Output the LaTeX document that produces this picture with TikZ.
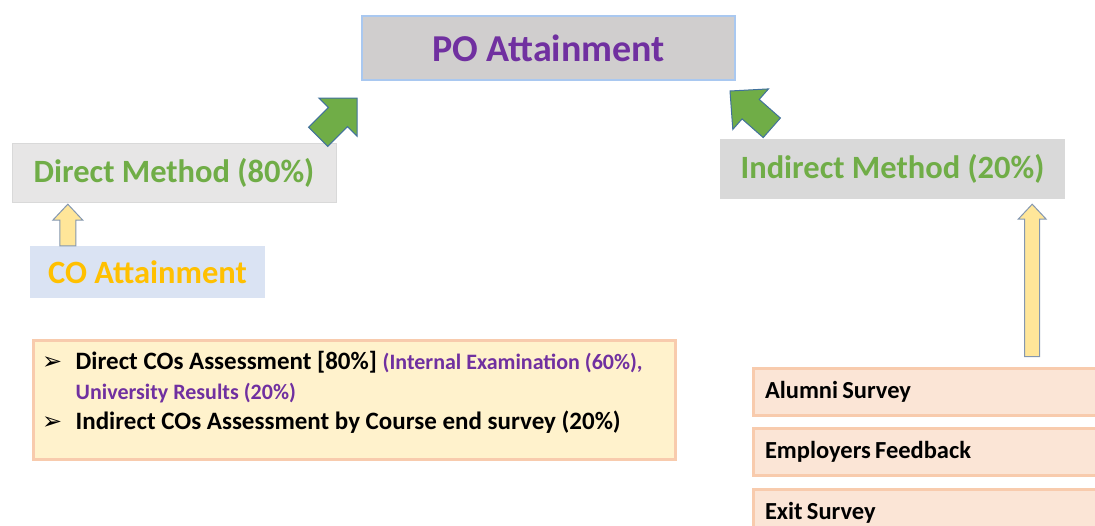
\documentclass[tikz,border=0pt]{standalone}
\usepackage{fontspec}
\setmainfont{Carlito}
\newfontfamily\symfont{DejaVu Sans}
\usetikzlibrary{positioning,calc}

\definecolor{poGray}{HTML}{D0CECE}
\definecolor{poEdge}{HTML}{A9C8F0}
\definecolor{poPurple}{HTML}{7030A0}
\definecolor{dirGray}{HTML}{E7E6E6}
\definecolor{indGray}{HTML}{D9D9D9}
\definecolor{methGreen}{HTML}{70AD47}
\definecolor{arrEdge}{HTML}{41719C}
\definecolor{coBlue}{HTML}{DAE3F3}
\definecolor{coGold}{HTML}{FFC000}
\definecolor{arrYellow}{HTML}{FFE699}
\definecolor{arrGrey}{HTML}{8497B0}
\definecolor{noteYellow}{HTML}{FFF2CC}
\definecolor{notePeach}{HTML}{F8CBAD}
\definecolor{surveyPink}{HTML}{FBE5D6}

% #1 style, #2 tail, #3 tip, #4 half shaft, #5 half head, #6 head length
\newcommand\blockarrow[6]{%
  \coordinate (ba-h) at ($(#3)!#6!(#2)$);
  \path [#1] ($(#2)!#4!90:(#3)$) -- ($(ba-h)!#4!90:(#3)$) -- ($(ba-h)!#5!90:(#3)$)
    -- (#3) -- ($(ba-h)!#5!-90:(#3)$) -- ($(ba-h)!#4!-90:(#3)$) -- ($(#2)!#4!-90:(#3)$) -- cycle;}

\begin{document}
\begin{tikzpicture}[x=1pt,y=-1pt,
  box/.style={inner sep=0pt},
  method/.style={box,text=methGreen,font=\fontsize{32.5}{32.5}\bfseries},
  survey/.style={box,fill=surveyPink,draw=notePeach,line width=3pt,text width=325pt,
    inner xsep=12pt,minimum height=47pt,align=left,font=\fontsize{24.5}{24.5}\bfseries,
    execute at begin node={\spaceskip=4.2pt\relax}},
  noteline/.style={anchor=base west,inner sep=0pt,font=\fontsize{25}{25}\bfseries},
  bullet/.style={anchor=base east,inner sep=0pt,font=\symfont\fontsize{24}{24}\selectfont},
  greenarrow/.style={fill=methGreen,draw=arrEdge,line width=1pt},
  yellowarrow/.style={fill=arrYellow,draw=arrGrey,line width=1pt}]

\useasboundingbox (0,0) rectangle (1095,525);

\node (po) [box,fill=poGray,draw=poEdge,line width=2pt,minimum width=373pt,minimum height=64pt,
  text=poPurple,font=\fontsize{38}{38}\bfseries] at (548.5,48) {PO Attainment};

\node (direct) [method,fill=dirGray,draw=indGray,minimum width=324pt,minimum height=59pt]
  at (174,172.5) {Direct Method (80\%)};
\node (indirect) [method,fill=indGray,minimum width=345pt,minimum height=60pt]
  at (892.5,169) {Indirect Method (20\%)};

\node (co) [box,fill=coBlue,text=coGold,minimum width=235pt,minimum height=52pt,
  font=\fontsize{32.5}{32.5}\bfseries] at (147.5,272) {CO Attainment};

\node (cosbox) [box,fill=noteYellow,draw=notePeach,line width=3pt,minimum width=642pt,
  minimum height=119pt] at (354,399.5) {};

\node (dline) [noteline] at ([shift={(44,31)}]cosbox.north west)
  {Direct COs Assessment [80\%] {\color{poPurple}\fontsize{22}{22}\selectfont (Internal Examination (60\%),}};
\node (uline) [noteline,text=poPurple,font=\fontsize{22}{22}\bfseries] at ([shift={(44,61)}]cosbox.north west)
  {University Results (20\%)};
\node (iline) [noteline] at ([shift={(44,91)}]cosbox.north west)
  {Indirect COs Assessment by Course end survey (20\%)};
\node (dbullet) [bullet] at ([shift={(-13,0)}]dline.base west) {➢};
\node (ibullet) [bullet] at ([shift={(-13,0)}]iline.base west) {➢};

\node (alumni) [survey] at (927.5,391.5) {Alumni Survey};
\node (employers) [survey,below=10pt of alumni] {Employers Feedback};
\node (exit) [survey,below=11pt of employers] {Exit Survey};

\coordinate (gltail) at ([shift={(-18,-6)}]direct.north east);
\coordinate (gltip) at ([shift={(-4,17)}]po.south west);
\coordinate (grtail) at ([shift={(52,-11)}]indirect.north west);
\coordinate (grtip) at ([shift={(-6,10)}]po.south east);
\coordinate (ystail) at ([shift={(38,0)}]co.north west);
\coordinate (ystip) at ([shift={(56,2)}]direct.south west);
\coordinate (yltip) at ([shift={(-33,5)}]indirect.south east);
\coordinate (ylbase) at (yltip |- alumni.north);
\coordinate (yltail) at ([yshift=10pt]ylbase);

\blockarrow{greenarrow}{gltail}{gltip}{13.5pt}{27pt}{27pt}
\blockarrow{greenarrow}{grtail}{grtip}{13pt}{27pt}{27.5pt}
\blockarrow{yellowarrow}{ystail}{ystip}{8pt}{15pt}{16pt}
\blockarrow{yellowarrow}{yltail}{yltip}{7.5pt}{14pt}{15pt}

\end{tikzpicture}
\end{document}
